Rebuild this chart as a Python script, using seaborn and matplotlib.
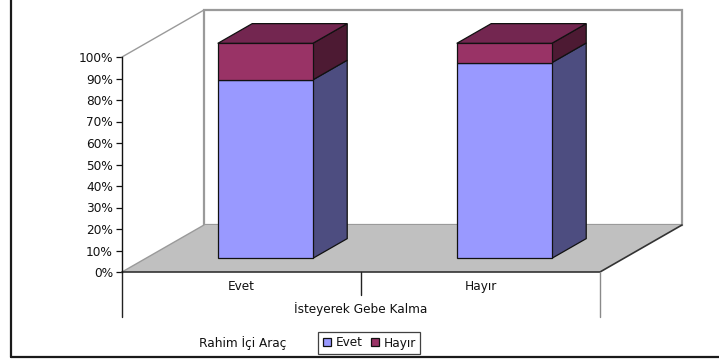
import matplotlib
matplotlib.use("Agg")
import matplotlib.pyplot as plt
from matplotlib.patches import Polygon
from matplotlib.lines import Line2D
from matplotlib.ticker import PercentFormatter
import seaborn as sns

# Data: 100% stacked shares per category
categories = ["Evet", "Hayır"]
evet = [83, 91]
hayir = [17, 9]
series_names = ["Evet", "Hayır"]
y_ticks = list(range(0, 101, 10))
x_title = "İsteyerek Gebe Kalma"
legend_title = "Rahim İçi Araç"

sns.set_style("white")
FS = 8.7
plt.rcParams["font.family"] = ["DejaVu Sans"]
plt.rcParams["font.size"] = FS
plt.rcParams["text.color"] = "#111111"
plt.rcParams["xtick.color"] = "#111111"
plt.rcParams["ytick.color"] = "#111111"

W, H = 719, 360
fig = plt.figure(figsize=(W / 100, H / 100), dpi=100)

# axes covers the front plane of the 3D box
L, R, T, B = 122, 600, 57, 272
ax = fig.add_axes([L / W, 1 - B / H, (R - L) / W, (B - T) / H])
ax.set_xlim(-0.5, 1.5)
ax.set_ylim(0, 100)

px_x = (R - L) / 2.0      # pixels per category unit
px_y = (B - T) / 100.0    # pixels per percent
DX, DY = 82 / px_x, 47 / px_y          # full depth of the box
f0, f1 = 0.29, 0.71                    # bar front/back depth fractions
bar_dx, bar_dy = (f1 - f0) * DX, (f1 - f0) * DY
front_dx, front_dy = f0 * DX, f0 * DY

wall_edge = "#9a9a9a"
# back wall
ax.add_patch(Polygon([(-0.5 + DX, DY), (1.5 + DX, DY), (1.5 + DX, 100 + DY), (-0.5 + DX, 100 + DY)],
                     closed=True, facecolor="white", edgecolor=wall_edge, lw=1.6, clip_on=False, zorder=0.5))
# left wall top diagonal
ax.add_line(Line2D([-0.5, -0.5 + DX], [100, 100 + DY], color=wall_edge, lw=1.0, clip_on=False, zorder=0.6))
# floor
ax.add_patch(Polygon([(-0.5, 0), (1.5, 0), (1.5 + DX, DY), (-0.5 + DX, DY)], closed=True,
                     facecolor="#c0c0c0", edgecolor="none", clip_on=False, zorder=0.7))
ax.add_line(Line2D([-0.5, -0.5 + DX], [0, DY], color=wall_edge, lw=1.0, clip_on=False, zorder=0.8))
ax.add_line(Line2D([-0.5, 1.5, 1.5 + DX], [0, 0, DY], color="#333333", lw=1.2, clip_on=False, zorder=0.8))

# category area lines below the floor
ax.add_line(Line2D([-0.5, -0.5], [0, -20.9], color="#222222", lw=1.0, clip_on=False))
ax.add_line(Line2D([1.5, 1.5], [0, -20.9], color="#8a8a8a", lw=1.0, clip_on=False))
ax.add_line(Line2D([0.5, 0.5], [0, -10.7], color="#222222", lw=1.0, clip_on=False))

# stacked bars (front faces)
bar_w = 95 / px_x
n_before = len(ax.patches)
sns.barplot(x=categories, y=evet, color="#9999ff", width=bar_w, bottom=front_dy,
            edgecolor="#111111", linewidth=0.9, saturation=1, ax=ax, zorder=2)
sns.barplot(x=categories, y=hayir, color="#993366", width=bar_w,
            bottom=[front_dy + v for v in evet],
            edgecolor="#111111", linewidth=0.9, saturation=1, ax=ax, zorder=2)
bars = ax.patches[n_before:]
evet_bars, hayir_bars = bars[:len(categories)], bars[len(categories):]

side_colors = {"e": "#4d4d80", "h": "#4d1a33"}
top_color = "#732650"
for group, key in ((evet_bars, "e"), (hayir_bars, "h")):
    for p in group:
        p.set_x(p.get_x() + front_dx)
        p.set_clip_on(False)
        x0, y0, w, h = p.get_x(), p.get_y(), p.get_width(), p.get_height()
        ax.add_patch(Polygon([(x0 + w, y0), (x0 + w + bar_dx, y0 + bar_dy),
                              (x0 + w + bar_dx, y0 + h + bar_dy), (x0 + w, y0 + h)],
                             closed=True, facecolor=side_colors[key], edgecolor="#111111",
                             lw=0.9, clip_on=False, zorder=1.9))
for p in hayir_bars:
    x0, y0, w, h = p.get_x(), p.get_y(), p.get_width(), p.get_height()
    ax.add_patch(Polygon([(x0, y0 + h), (x0 + w, y0 + h), (x0 + w + bar_dx, y0 + h + bar_dy),
                          (x0 + bar_dx, y0 + h + bar_dy)], closed=True, facecolor=top_color,
                         edgecolor="#111111", lw=0.9, clip_on=False, zorder=1.9))

# axes styling
for s in ("top", "right", "bottom"):
    ax.spines[s].set_visible(False)
ax.spines["left"].set_color("#111111")
ax.spines["left"].set_linewidth(1.0)
ax.spines["left"].set_zorder(3)
ax.set_yticks(y_ticks)
ax.yaxis.set_major_formatter(PercentFormatter(xmax=100, decimals=0))
ax.tick_params(axis="y", direction="out", length=4.5, width=0.9, color="#111111",
               pad=2, labelsize=FS, left=True, labelcolor="#111111")
ax.set_xticks([0, 1])
ax.set_xticklabels(categories)
ax.tick_params(axis="x", length=0, pad=6, labelsize=FS, labelcolor="#111111")
ax.set_xlabel("")
ax.set_ylabel("")
ax.patch.set_visible(False)
ax.text(0.5, -17.2, x_title, ha="center", va="center", fontsize=FS, clip_on=False)

# legend
handles = [Line2D([], [], marker="s", ls="none", markersize=5.5, markerfacecolor=c,
                  markeredgecolor="#111111", markeredgewidth=0.9)
           for c in ("#9999ff", "#993366")]
leg = fig.legend(handles, series_names, loc="center", bbox_to_anchor=(369 / W, 1 - 343 / H),
                 ncol=2, frameon=True, fancybox=False, fontsize=FS, handlelength=0.8,
                 handletextpad=0.35, columnspacing=0.6, borderpad=0.35, borderaxespad=0)
leg.get_frame().set_edgecolor("#111111")
leg.get_frame().set_linewidth(0.9)
fig.text(243 / W, 1 - 343 / H, legend_title, ha="center", va="center", fontsize=FS)

# chart area border
fig.add_artist(Line2D([11 / W, 11 / W], [1, 1 - 357 / H], transform=fig.transFigure,
                      color="#1a1a1a", lw=1.6))
fig.add_artist(Line2D([11 / W, 1], [1 - 357 / H, 1 - 357 / H], transform=fig.transFigure,
                      color="#1a1a1a", lw=1.6))

fig.savefig("out.png", dpi=100)
